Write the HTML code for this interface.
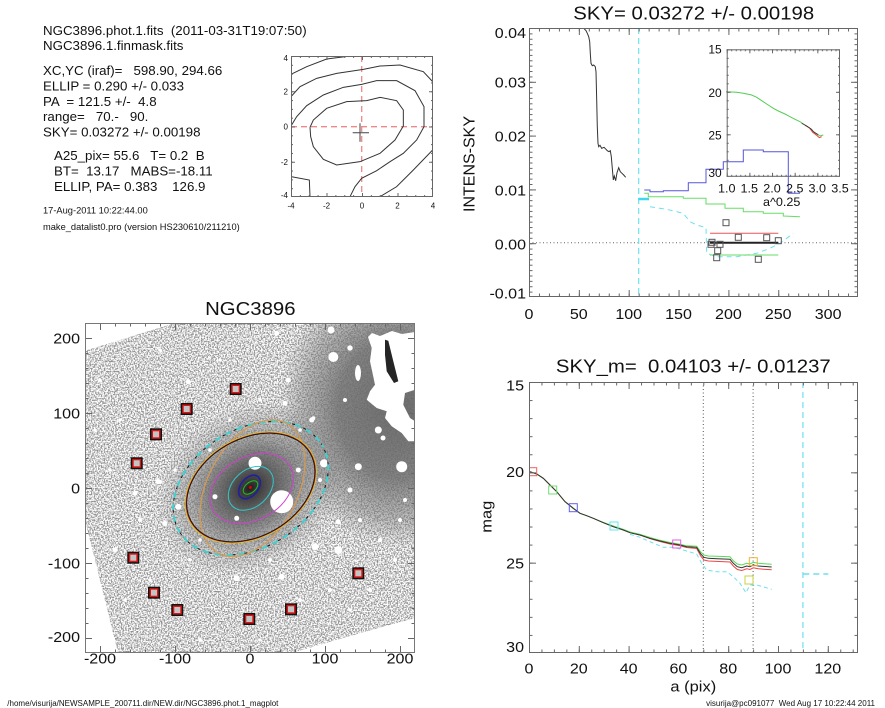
<!DOCTYPE html>
<html>
<head>
<meta charset="utf-8">
<style>
html,body{margin:0;padding:0;background:#fff;}
svg{display:block;}
text{font-family:"Liberation Sans",Arial,Helvetica,sans-serif;fill:#111;white-space:pre;}
.f15{font-size:15px;}
.f12{font-size:12px;}
.f8{font-size:8px;}
.f13{font-size:13.3px;}
.f9{font-size:9.3px;}
.tt{font-size:18.5px;}
</style>
</head>
<body>
<svg width="885" height="708" viewBox="0 0 885 708" xmlns="http://www.w3.org/2000/svg" xmlns:xlink="http://www.w3.org/1999/xlink">
<defs>
  <pattern id="trxM" patternUnits="userSpaceOnUse" x="529" y="0" width="49.85" height="800"><rect width="1" height="800" fill="#666"/></pattern>
  <pattern id="trxm" patternUnits="userSpaceOnUse" x="529" y="0" width="9.97" height="800"><rect width="1" height="800" fill="#666"/></pattern>
  <pattern id="tryM" patternUnits="userSpaceOnUse" x="0" y="28" width="900" height="53.8"><rect width="900" height="1" fill="#666"/></pattern>
  <pattern id="trym" patternUnits="userSpaceOnUse" x="0" y="28" width="900" height="5.38"><rect width="900" height="1" fill="#666"/></pattern>
  <pattern id="brxM" patternUnits="userSpaceOnUse" x="529" y="0" width="49.8" height="800"><rect width="1" height="800" fill="#666"/></pattern>
  <pattern id="brxm" patternUnits="userSpaceOnUse" x="529" y="0" width="12.45" height="800"><rect width="1" height="800" fill="#666"/></pattern>
  <pattern id="bryM" patternUnits="userSpaceOnUse" x="0" y="382" width="900" height="90.33"><rect width="900" height="1" fill="#666"/></pattern>
  <pattern id="brym" patternUnits="userSpaceOnUse" x="0" y="382" width="900" height="18.066"><rect width="900" height="1" fill="#666"/></pattern>
  <pattern id="blxM" patternUnits="userSpaceOnUse" x="100" y="0" width="75" height="800"><rect width="1" height="800" fill="#666"/></pattern>
  <pattern id="blxm" patternUnits="userSpaceOnUse" x="100" y="0" width="15" height="800"><rect width="1" height="800" fill="#666"/></pattern>
  <pattern id="blyM" patternUnits="userSpaceOnUse" x="0" y="338" width="900" height="75"><rect width="900" height="1" fill="#666"/></pattern>
  <pattern id="blym" patternUnits="userSpaceOnUse" x="0" y="338" width="900" height="15"><rect width="900" height="1" fill="#666"/></pattern>
  <pattern id="scxM" patternUnits="userSpaceOnUse" x="291" y="0" width="35.5" height="800"><rect width="1" height="800" fill="#666"/></pattern>
  <pattern id="scxm" patternUnits="userSpaceOnUse" x="291" y="0" width="8.875" height="800"><rect width="1" height="800" fill="#666"/></pattern>
  <pattern id="scyM" patternUnits="userSpaceOnUse" x="0" y="56" width="900" height="35.25"><rect width="900" height="1" fill="#666"/></pattern>
  <pattern id="scym" patternUnits="userSpaceOnUse" x="0" y="56" width="900" height="8.8125"><rect width="900" height="1" fill="#666"/></pattern>
  <pattern id="inxM" patternUnits="userSpaceOnUse" x="726.7" y="0" width="22.66" height="800"><rect width="1" height="800" fill="#666"/></pattern>
  <pattern id="inxm" patternUnits="userSpaceOnUse" x="726.7" y="0" width="4.532" height="800"><rect width="1" height="800" fill="#666"/></pattern>
  <pattern id="inyM" patternUnits="userSpaceOnUse" x="0" y="49.3" width="900" height="42.5"><rect width="900" height="1" fill="#666"/></pattern>
  <pattern id="inym" patternUnits="userSpaceOnUse" x="0" y="49.3" width="900" height="8.5"><rect width="900" height="1" fill="#666"/></pattern>

  <clipPath id="cTR"><rect x="529" y="28" width="329" height="269"/></clipPath>
  <clipPath id="cBR"><rect x="529" y="382" width="329" height="271"/></clipPath>
  <clipPath id="cBL"><rect x="85" y="323" width="330" height="330"/></clipPath>
  <clipPath id="cSC"><rect x="291" y="56" width="142" height="141"/></clipPath>
  <clipPath id="cIMG"><polygon points="85,520 85,350.7 175,323 415,323 415,618 350,636 292,653 118,653"/></clipPath>

  <filter id="nz" filterUnits="userSpaceOnUse" x="85" y="323" width="330" height="330" color-interpolation-filters="sRGB">
    <feTurbulence type="fractalNoise" baseFrequency="0.7" numOctaves="3" seed="11"/>
    <feColorMatrix type="matrix" values="0 0 0 1 0  0 0 0 1 0  0 0 0 1 0  0 0 0 0 1"/>
    <feComponentTransfer>
      <feFuncR type="table" tableValues="0.55 0.55 0.55 0.57 0.7 0.97 1 1 1 1"/>
      <feFuncG type="table" tableValues="0.55 0.55 0.55 0.57 0.7 0.97 1 1 1 1"/>
      <feFuncB type="table" tableValues="0.55 0.55 0.55 0.57 0.7 0.97 1 1 1 1"/>
    </feComponentTransfer>
  </filter>

  <radialGradient id="gdark" cx="0.5" cy="0.5" r="0.5">
    <stop offset="0" stop-color="#666" stop-opacity="0.95"/>
    <stop offset="0.5" stop-color="#6e6e6e" stop-opacity="0.85"/>
    <stop offset="0.8" stop-color="#7a7a7a" stop-opacity="0.45"/>
    <stop offset="1" stop-color="#888" stop-opacity="0"/>
  </radialGradient>
  <radialGradient id="ggal" cx="0.5" cy="0.5" r="0.5">
    <stop offset="0" stop-color="#1a1a1a" stop-opacity="1"/>
    <stop offset="0.06" stop-color="#333" stop-opacity="1"/>
    <stop offset="0.25" stop-color="#555" stop-opacity="0.92"/>
    <stop offset="0.44" stop-color="#6a6a6a" stop-opacity="0.8"/>
    <stop offset="0.7" stop-color="#808080" stop-opacity="0.45"/>
    <stop offset="1" stop-color="#888" stop-opacity="0"/>
  </radialGradient>

  <g id="mk">
    <rect x="-6" y="-6" width="12" height="12" fill="#111"/>
    <rect x="-4.5" y="-4.5" width="9" height="9" fill="#d81818"/>
    <rect x="-3" y="-3" width="6" height="6" fill="#c4c4c4"/>
  </g>
</defs>

<rect x="0" y="0" width="885" height="708" fill="#fff"/>

<!-- TOP-LEFT TEXT -->
<text class="f13" x="43" y="35">NGC3896.phot.1.fits  (2011-03-31T19:07:50)</text>
<text class="f13" x="43" y="50">NGC3896.1.finmask.fits</text>
<text class="f13" x="43" y="75">XC,YC (iraf)=   598.90, 294.66</text>
<text class="f13" x="43" y="90.4">ELLIP = 0.290 +/- 0.033</text>
<text class="f13" x="43" y="105.8">PA  = 121.5 +/-  4.8</text>
<text class="f13" x="43" y="121.2">range=   70.-   90.</text>
<text class="f13" x="43" y="136.6">SKY= 0.03272 +/- 0.00198</text>
<text class="f13" x="54" y="160">A25_pix= 55.6   T= 0.2  B</text>
<text class="f13" x="54" y="175.6">BT=  13.17   MABS=-18.11</text>
<text class="f13" x="54" y="191">ELLIP, PA= 0.383    126.9</text>
<text class="f9" x="43" y="213.5">17-Aug-2011 10:22:44.00</text>
<text class="f9" x="43" y="230">make_datalist0.pro (version HS230610/211210)</text>

<!-- SMALL CONTOUR PLOT -->
<g clip-path="url(#cSC)">
  <line x1="291" y1="126.7" x2="433" y2="126.7" stroke="#f08888" stroke-width="1.3" stroke-dasharray="6 4"/>
  <line x1="361.7" y1="56" x2="361.7" y2="197" stroke="#f08888" stroke-width="1.3" stroke-dasharray="6 4"/>
  <g transform="translate(270,40) scale(0.33333)" fill="none" stroke="#333" stroke-width="3">
    <polyline points="120,262 122,290 130,320 160,358 200,375 270,365 330,340 375,300 400,258 400,210 380,182 330,172 290,182 230,185 170,205 130,240 120,262"/>
    <polyline points="63,258 80,230 110,197 160,165 220,142 275,133 320,122 380,122 435,152 462,200 462,260 440,300 400,340 360,365 320,392 275,415 255,440 240,470"/>
    <polyline points="63,170 90,140 140,115 200,100 280,88 330,78 390,75 460,95 488,125"/>
    <polyline points="63,103 110,80 170,57 250,47"/>
    <polyline points="63,410 118,420 120,470"/>
    <polyline points="330,470 380,440 430,390 488,330"/>
  </g>
  <line x1="352.7" y1="132.7" x2="369" y2="132.7" stroke="#444" stroke-width="1"/>
  <line x1="360" y1="123.3" x2="360" y2="141.7" stroke="#444" stroke-width="1"/>
</g>
<rect x="291" y="193" width="142" height="4" fill="url(#scxM)"/>
<rect x="291" y="195" width="142" height="2" fill="url(#scxm)"/>
<rect x="291" y="56" width="142" height="4" fill="url(#scxM)"/>
<rect x="291" y="56" width="142" height="2" fill="url(#scxm)"/>
<rect x="291" y="56" width="4" height="141" fill="url(#scyM)"/>
<rect x="291" y="56" width="2" height="141" fill="url(#scym)"/>
<rect x="429" y="56" width="4" height="141" fill="url(#scyM)"/>
<rect x="431" y="56" width="2" height="141" fill="url(#scym)"/>
<rect x="291.5" y="56.5" width="141" height="140" fill="none" stroke="#666" stroke-width="1"/>
<g class="f8" text-anchor="end">
  <text x="288" y="61.2">4</text>
  <text x="288" y="94.6">2</text>
  <text x="288" y="129.6">0</text>
  <text x="288" y="165.2">-2</text>
  <text x="288" y="197.9">-4</text>
</g>
<g class="f8" text-anchor="middle">
  <text x="291" y="208.6">-4</text>
  <text x="326.5" y="208.6">-2</text>
  <text x="362" y="208.6">0</text>
  <text x="397.5" y="208.6">2</text>
  <text x="433" y="208.6">4</text>
</g>

<!-- TOP-RIGHT PLOT -->
<text class="tt" text-anchor="middle" transform="translate(693.7,19.4) scale(1.1,1)">SKY= 0.03272 +/- 0.00198</text>
<text style="font-size:16px" text-anchor="middle" transform="translate(474.3,164) rotate(-90)">INTENS-SKY</text>

<g clip-path="url(#cTR)" fill="none">
  <line x1="529" y1="242.8" x2="858" y2="242.8" stroke="#666" stroke-width="1" stroke-dasharray="1 2.5"/>
  <line x1="638.7" y1="28" x2="638.7" y2="297" stroke="#6ee0ee" stroke-width="1.2" stroke-dasharray="6 4"/>
  <polyline stroke="#333" stroke-width="1" points="583.3,27.3 584.7,29.3 586,30.7 587.3,33.3 588.7,36.7 589.7,41.7 590.3,53.3 591,63.3 592.3,65.7 593.7,65 595.3,66.7 596,71.7 596.7,100 597.3,126.7 598,143.3 598.7,146.7 600,145.3 601.7,148.3 604,147.3 606,149.3 607.3,150.7 609,151.7 610.3,150.7 611.3,156.7 612.3,168.3 613.3,180 614.3,176 615.7,180.7 617,172.7 618.7,167.7 620.3,171.7 622,173.3 623.7,175 625.7,177.3"/>
  <polyline stroke="#5555dd" stroke-width="1" points="644.3,190 650,190 650,191.7 663.3,191.7 663.3,190.7 688.3,190.7 688.3,182.7 706,182.7 706,169.3 723.3,169.3 723.3,161.7 743.3,161.7 743.3,150 763.3,150 763.3,151.7 788.3,151.7 788.3,193.3 800,193.3"/>
  <polyline stroke="#66dd66" stroke-width="1" points="644.3,193.3 648.3,193.3 648.3,196.7 683.3,196.7 683.3,198.3 706,198.3 706,204 725,204 725,208.3 743.3,208.3 743.3,211.7 763.3,211.7 763.3,213.3 783.3,213.3 783.3,216 800,216.7"/>
  <line x1="638.3" y1="199" x2="649" y2="199" stroke="#40d8ee" stroke-width="2.5"/>
  <polyline stroke="#6ee0ee" stroke-width="1" stroke-dasharray="5 4" points="650,206.7 666.7,209.3 683.3,213.3 690,221.7 696.7,225 706,227.7 706.7,253.3 716.7,256.7 736.7,256.7 756.7,253.3 770,248.3 780,243.3 793.3,233.3"/>
  <line x1="710" y1="233.3" x2="778.3" y2="233.3" stroke="#ee5555" stroke-width="1"/>
  <line x1="710" y1="242.8" x2="778.3" y2="242.8" stroke="#222" stroke-width="2"/>
  <line x1="710" y1="255" x2="778.3" y2="255" stroke="#66dd66" stroke-width="1"/>
  <g stroke="#555" stroke-width="1">
    <rect x="708" y="241.3" width="6" height="6"/>
    <rect x="709" y="239.3" width="6" height="6"/>
    <rect x="717" y="241.3" width="6" height="6"/>
    <rect x="714.7" y="247.7" width="6" height="6"/>
    <rect x="713.7" y="254.7" width="6" height="6"/>
    <rect x="723" y="219.7" width="6" height="6"/>
    <rect x="735.3" y="234.3" width="6" height="6"/>
    <rect x="755.3" y="256.3" width="6" height="6"/>
    <rect x="763.7" y="234.7" width="6" height="6"/>
    <rect x="775.3" y="237.7" width="6" height="6"/>
  </g>
  <polyline stroke="#55cc55" stroke-width="1" points="726,91.7 736.7,92.3 743.3,93.3 751.7,95 756.7,97.3 761.7,100.7 766.7,104 773.3,108.3 778.3,111 785,114 790,116.7 795,119.3 800,121.7 805,125 808.3,127.3 811.7,129.3 813.3,132.7 816.7,134 820,136 823.3,135"/>
  <polyline stroke="#ee4444" stroke-width="1" points="805,125.3 809.3,127.7 812.7,132.3 816.7,135.3 819.3,137.7 821.7,136.7"/>
  <polyline stroke="#333" stroke-width="0.8" points="801.7,123.3 806.7,126 810.7,128.7 814,132 818.3,134.7"/>
</g>
<rect x="726.7" y="172.8" width="113.3" height="4" fill="url(#inxM)"/>
<rect x="726.7" y="174.8" width="113.3" height="2" fill="url(#inxm)"/>
<rect x="726.7" y="49.3" width="113.3" height="4" fill="url(#inxM)"/>
<rect x="726.7" y="49.3" width="113.3" height="2" fill="url(#inxm)"/>
<rect x="726.7" y="49.3" width="4" height="127.5" fill="url(#inyM)"/>
<rect x="726.7" y="49.3" width="2" height="127.5" fill="url(#inym)"/>
<rect x="836" y="49.3" width="4" height="127.5" fill="url(#inyM)"/>
<rect x="838" y="49.3" width="2" height="127.5" fill="url(#inym)"/>
<rect x="727.2" y="49.8" width="112.3" height="126.5" fill="none" stroke="#666" stroke-width="1"/>
<g class="f12" text-anchor="end">
  <text x="721.7" y="53.6">15</text>
  <text x="721.7" y="97">20</text>
  <text x="721.7" y="139.3">25</text>
  <text x="721.7" y="177">30</text>
</g>
<g class="f12" text-anchor="middle">
  <text transform="translate(726.7,192.6) scale(1.05,1)">1.0</text>
  <text transform="translate(749.3,192.6) scale(1.05,1)">1.5</text>
  <text transform="translate(772,192.6) scale(1.05,1)">2.0</text>
  <text transform="translate(794.7,192.6) scale(1.05,1)">2.5</text>
  <text transform="translate(817.3,192.6) scale(1.05,1)">3.0</text>
  <text transform="translate(840,192.6) scale(1.05,1)">3.5</text>
  <text transform="translate(781.7,206) scale(1.05,1)">a^0.25</text>
</g>
<rect x="529" y="290" width="329" height="7" fill="url(#trxM)"/>
<rect x="529" y="293.5" width="329" height="3.5" fill="url(#trxm)"/>
<rect x="529" y="28" width="329" height="7" fill="url(#trxM)"/>
<rect x="529" y="28" width="329" height="3.5" fill="url(#trxm)"/>
<rect x="529" y="28" width="7" height="269" fill="url(#tryM)"/>
<rect x="529" y="28" width="3.5" height="269" fill="url(#trym)"/>
<rect x="851" y="28" width="7" height="269" fill="url(#tryM)"/>
<rect x="854.5" y="28" width="3.5" height="269" fill="url(#trym)"/>
<rect x="529.5" y="28.5" width="328" height="268" fill="none" stroke="#666" stroke-width="1"/>
<g class="f15" text-anchor="end">
  <text transform="translate(526,37.8) scale(1.07,1)">0.04</text>
  <text transform="translate(526,87.5) scale(1.07,1)">0.03</text>
  <text transform="translate(526,141.5) scale(1.07,1)">0.02</text>
  <text transform="translate(526,195.3) scale(1.07,1)">0.01</text>
  <text transform="translate(526,249.3) scale(1.07,1)">0.00</text>
  <text transform="translate(526,298.7) scale(1.07,1)">-0.01</text>
</g>
<g class="f15" text-anchor="middle">
  <text transform="translate(529,319.2) scale(1.07,1)">0</text>
  <text transform="translate(578.8,319.2) scale(1.07,1)">50</text>
  <text transform="translate(628.7,319.2) scale(1.07,1)">100</text>
  <text transform="translate(678.5,319.2) scale(1.07,1)">150</text>
  <text transform="translate(728.4,319.2) scale(1.07,1)">200</text>
  <text transform="translate(778.2,319.2) scale(1.07,1)">250</text>
  <text transform="translate(828.1,319.2) scale(1.07,1)">300</text>
</g>

<!-- BOTTOM-LEFT IMAGE -->
<text class="tt" text-anchor="middle" transform="translate(250.3,315) scale(1.1,1)">NGC3896</text>
<g clip-path="url(#cIMG)">
  <rect x="85" y="323" width="330" height="330" fill="#bbb" filter="url(#nz)"/>
  <ellipse cx="398" cy="408" rx="120" ry="140" fill="url(#gdark)"/>
  <ellipse cx="250" cy="488" rx="100" ry="80" transform="rotate(-35 250 488)" fill="url(#ggal)"/>
  <g fill="#fff">
    <circle cx="255" cy="463.3" r="6.5"/>
    <circle cx="281.7" cy="501.7" r="11.5"/>
    <circle cx="333.3" cy="357" r="5"/>
    <circle cx="331" cy="330" r="3.5"/>
    <circle cx="324" cy="463.3" r="4"/>
    <circle cx="358.3" cy="466.7" r="3.5"/>
    <circle cx="401.7" cy="466.7" r="5.5"/>
    <circle cx="338.3" cy="550" r="4"/>
    <circle cx="315" cy="546.7" r="3.5"/>
    <circle cx="178.3" cy="506.7" r="3"/>
    <circle cx="158.3" cy="481.7" r="2.5"/>
    <circle cx="135" cy="493.3" r="2.5"/>
    <circle cx="285" cy="403.3" r="2.5"/>
    <circle cx="311.7" cy="420" r="2.5"/>
    <circle cx="165" cy="523.3" r="2.5"/>
    <circle cx="236.7" cy="578.3" r="3"/>
    <circle cx="281.7" cy="576.7" r="3"/>
    <circle cx="215" cy="496.7" r="2.5"/>
    <circle cx="236.7" cy="518.3" r="2.5"/>
    <circle cx="188.3" cy="381.7" r="2.5"/>
    <circle cx="115" cy="550" r="2.5"/>
    <circle cx="276.7" cy="333.3" r="2.5"/>
    <circle cx="288.3" cy="380" r="2.5"/>
    <circle cx="378.3" cy="430" r="3.5"/>
    <circle cx="383" cy="438" r="2.5"/>
    <circle cx="298.3" cy="470" r="2.5"/>
    <circle cx="350" cy="348" r="2.7"/>
    <circle cx="313.3" cy="418.3" r="2"/>
    <circle cx="350" cy="490" r="2.5"/>
    <circle cx="338.3" cy="521.7" r="2.5"/>
    <circle cx="160" cy="481.7" r="2"/>
    <circle cx="100" cy="380" r="1.8"/>
    <circle cx="120" cy="420" r="1.8"/>
    <circle cx="140" cy="520" r="2"/>
    <circle cx="200" cy="540" r="1.8"/>
    <circle cx="210" cy="450" r="1.8"/>
    <circle cx="230" cy="420" r="1.8"/>
    <circle cx="270" cy="560" r="2"/>
    <circle cx="300" cy="600" r="2"/>
    <circle cx="330" cy="590" r="2"/>
    <circle cx="350" cy="610" r="1.8"/>
    <circle cx="380" cy="540" r="2.2"/>
    <circle cx="400" cy="520" r="2"/>
    <circle cx="395" cy="560" r="2"/>
    <circle cx="360" cy="520" r="2"/>
    <circle cx="300" cy="430" r="1.8"/>
    <circle cx="260" cy="400" r="1.8"/>
    <circle cx="220" cy="360" r="1.8"/>
    <circle cx="160" cy="350" r="1.8"/>
    <circle cx="110" cy="470" r="1.8"/>
    <circle cx="125" cy="600" r="1.8"/>
    <circle cx="200" cy="640" r="1.8"/>
    <circle cx="260" cy="640" r="1.8"/>
    <circle cx="320" cy="480" r="2"/>
    <circle cx="345" cy="400" r="2"/>
    <circle cx="405" cy="500" r="2"/>
    <circle cx="370" cy="590" r="2"/>
    <circle cx="150" cy="580" r="1.8"/>
    <circle cx="190" cy="560" r="1.8"/>
    <circle cx="95" cy="430" r="1.8"/>
    <circle cx="175" cy="470" r="1.8"/>
    <ellipse cx="358" cy="373" rx="3" ry="8"/>
    <polygon points="368,337 372,333 380,336 392,331 402,334 415,332 415,389.7 405,393 403.3,404.7 410,418 415,421.3 415,441.3 408.3,441.3 401.7,433 391.7,426.3 385,418 386.7,411.3 376.7,408 366.7,399.7 370,391.3 375,384.7 370,361.3 371.7,348"/>
  </g>
  <polygon fill="#252525" points="385,339.7 388.3,340.7 393.3,361.3 398.3,381.3 394,383 386.7,371.3 385,354.7"/>
</g>
<g clip-path="url(#cBL)" fill="none">
  <ellipse cx="250.7" cy="488.3" rx="83.4" ry="59.2" transform="rotate(-31.6 250.7 488.3)" stroke="#111" stroke-width="1" stroke-dasharray="3 3"/>
  <ellipse cx="250.7" cy="488.3" rx="83.4" ry="59.2" transform="rotate(-31.6 250.7 488.3)" stroke="#40d0d0" stroke-width="2" stroke-dasharray="6 6" stroke-dashoffset="3"/>
  <ellipse cx="252.5" cy="488.3" rx="73.3" ry="45.2" transform="rotate(-62.5 252.5 488.3)" stroke="#d89a50" stroke-width="1.2"/>
  <ellipse cx="250.8" cy="487.5" rx="69.8" ry="49.6" transform="rotate(-30 250.8 487.5)" stroke="#d8d020" stroke-width="1.2"/>
  <ellipse cx="250.8" cy="487.5" rx="69.2" ry="49.1" transform="rotate(-30 250.8 487.5)" stroke="#d02020" stroke-width="0.8"/>
  <ellipse cx="250.8" cy="487.5" rx="68.5" ry="48.6" transform="rotate(-30 250.8 487.5)" stroke="#111" stroke-width="0.9"/>
  <ellipse cx="251.7" cy="488.3" rx="44.4" ry="31.5" transform="rotate(-29 251.7 488.3)" stroke="#d040d0" stroke-width="1"/>
  <ellipse cx="250.8" cy="488.3" rx="25.6" ry="18.2" transform="rotate(-43 250.8 488.3)" stroke="#30c8c8" stroke-width="1"/>
  <ellipse cx="249.5" cy="487" rx="13.4" ry="8.7" transform="rotate(-51 249.5 487)" stroke="#2020a0" stroke-width="1.6"/>
  <ellipse cx="250.5" cy="487.5" rx="8.5" ry="5.1" transform="rotate(-40 250.5 487.5)" stroke="#20c020" stroke-width="1"/>
  <circle cx="250.3" cy="487.5" r="1.5" fill="#e00000"/>
</g>
<use xlink:href="#mk" x="235.7" y="389"/>
<use xlink:href="#mk" x="186.7" y="409"/>
<use xlink:href="#mk" x="156" y="434.3"/>
<use xlink:href="#mk" x="136.7" y="463.3"/>
<use xlink:href="#mk" x="133.3" y="557.7"/>
<use xlink:href="#mk" x="154" y="592.7"/>
<use xlink:href="#mk" x="177.3" y="610"/>
<use xlink:href="#mk" x="249.3" y="619"/>
<use xlink:href="#mk" x="291" y="609.3"/>
<use xlink:href="#mk" x="358.3" y="573.3"/>

<rect x="85" y="646" width="330" height="7" fill="url(#blxM)"/>
<rect x="85" y="649.5" width="330" height="3.5" fill="url(#blxm)"/>
<rect x="85" y="323" width="330" height="7" fill="url(#blxM)"/>
<rect x="85" y="323" width="330" height="3.5" fill="url(#blxm)"/>
<rect x="85" y="323" width="7" height="330" fill="url(#blyM)"/>
<rect x="85" y="323" width="3.5" height="330" fill="url(#blym)"/>
<rect x="408" y="323" width="7" height="330" fill="url(#blyM)"/>
<rect x="411.5" y="323" width="3.5" height="330" fill="url(#blym)"/>
<rect x="85.5" y="323.5" width="329" height="329" fill="none" stroke="#777" stroke-width="1"/>
<g class="f15" text-anchor="end">
  <text transform="translate(80,343.7) scale(1.07,1)">200</text>
  <text transform="translate(80,418.7) scale(1.07,1)">100</text>
  <text transform="translate(80,493.7) scale(1.07,1)">0</text>
  <text transform="translate(80,568.7) scale(1.07,1)">-100</text>
  <text transform="translate(80,642.1) scale(1.07,1)">-200</text>
</g>
<g class="f15" text-anchor="middle">
  <text transform="translate(100,663.7) scale(1.07,1)">-200</text>
  <text transform="translate(175,663.7) scale(1.07,1)">-100</text>
  <text transform="translate(250,663.7) scale(1.07,1)">0</text>
  <text transform="translate(325,663.7) scale(1.07,1)">100</text>
  <text transform="translate(400,663.7) scale(1.07,1)">200</text>
</g>

<!-- BOTTOM-RIGHT PLOT -->
<text class="tt" text-anchor="middle" transform="translate(693.3,372.7) scale(1.1,1)">SKY_m=  0.04103 +/- 0.01237</text>
<text class="f15" text-anchor="middle" transform="translate(491.7,516.7) rotate(-90) scale(1.1,1)">mag</text>
<text class="f15" text-anchor="middle" transform="translate(693.3,691.5) scale(1.1,1)">a (pix)</text>

<g clip-path="url(#cBR)" fill="none">
  <line x1="703.3" y1="382" x2="703.3" y2="653" stroke="#555" stroke-width="1" stroke-dasharray="1 2.5"/>
  <line x1="753.1" y1="382" x2="753.1" y2="653" stroke="#555" stroke-width="1" stroke-dasharray="1 2.5"/>
  <line x1="802.9" y1="382" x2="802.9" y2="653" stroke="#6ee0ee" stroke-width="1.2" stroke-dasharray="6 4"/>
  <line x1="803.3" y1="574" x2="828.3" y2="574" stroke="#6ee0ee" stroke-width="1.6" stroke-dasharray="6 4"/>
  <polyline stroke="#6ee0ee" stroke-width="1" stroke-dasharray="4 3" points="630,534.3 640,537.3 650,541.7 663.3,547.3 673.3,547.3 683.3,550 696.7,554 701.7,563.3 706.7,570 716.7,571.7 726.7,571.7 733.3,576.7 740,583.3 746,592.7 750,585 756.7,585 771.7,589.3"/>
  <polyline stroke="#ee4444" stroke-width="1" points="530,471.7 536.7,474 543.3,478.3 550,485 556.7,491.7 565,501.7 573.3,508.3 580,513.3 586.7,515.7 593.3,518.3 603.3,522.7 613.3,526.7 623.3,530 630,532.7 640,535 650,538.7 660,541.5 670,544 680,545.8 686.7,547.5 696.7,548.5 698.3,551.5 700.7,556 704,560 708.3,561 716.7,561.4 730,562 733.3,566 737.3,569.5 741.7,570.5 746.7,568.8 750,569.5 753.3,567.8 758.3,568.8 771.7,569.8"/>
  <polyline stroke="#55dd55" stroke-width="1" points="530,471.7 536.7,474 543.3,478.3 550,485 556.7,491.7 565,501.7 573.3,508.3 580,513.3 586.7,515.7 593.3,518.3 603.3,522.3 613.3,526 623.3,529.3 630,532 640,534.3 650,537.5 660,540.3 670,542.5 680,544.2 686.7,545.8 696.7,546.2 698.3,548.5 700.7,552 704,555 708.3,556 716.7,556.3 730,556.8 733.3,560.8 737.3,564 741.7,565 746.7,563.3 750,564 753.3,562.3 758.3,563.3 771.7,564.3"/>
  <polyline stroke="#333" stroke-width="1" points="530,471.7 536.7,474 543.3,478.3 550,485 556.7,491.7 565,501.7 573.3,508.3 580,513.3 586.7,515.7 593.3,518.3 603.3,522.7 613.3,526.7 623.3,530 630,532.7 640,535 650,538.3 660,541 670,543.3 680,545 686.7,546.7 696.7,547.3 698.3,550 700.7,554 704,557.3 708.3,558.3 716.7,558.7 730,559.3 733.3,563.3 737.3,566.7 741.7,567.7 746.7,566 750,566.7 753.3,565 758.3,566 771.7,567"/>
  <rect x="528.7" y="467.7" width="8" height="8" stroke="#f06060" stroke-width="1"/>
  <rect x="548.7" y="486" width="8" height="8" stroke="#70e070" stroke-width="1"/>
  <rect x="569.3" y="503.7" width="8" height="8" stroke="#6060f0" stroke-width="1"/>
  <rect x="610" y="522" width="8" height="8" stroke="#60e8f0" stroke-width="1"/>
  <rect x="672.7" y="540" width="8" height="8" stroke="#e060e0" stroke-width="1"/>
  <rect x="749.3" y="557.7" width="8" height="8" stroke="#f0b040" stroke-width="1"/>
  <rect x="745" y="576" width="8" height="8" stroke="#c8d040" stroke-width="1"/>
</g>
<rect x="529" y="646" width="329" height="7" fill="url(#brxM)"/>
<rect x="529" y="649.5" width="329" height="3.5" fill="url(#brxm)"/>
<rect x="529" y="382" width="329" height="7" fill="url(#brxM)"/>
<rect x="529" y="382" width="329" height="3.5" fill="url(#brxm)"/>
<rect x="529" y="382" width="7" height="271" fill="url(#bryM)"/>
<rect x="529" y="382" width="3.5" height="271" fill="url(#brym)"/>
<rect x="851" y="382" width="7" height="271" fill="url(#bryM)"/>
<rect x="854.5" y="382" width="3.5" height="271" fill="url(#brym)"/>
<rect x="529.5" y="382.5" width="328" height="270" fill="none" stroke="#666" stroke-width="1"/>
<g class="f15" text-anchor="end">
  <text transform="translate(524,390.4) scale(1.07,1)">15</text>
  <text transform="translate(524,477.1) scale(1.07,1)">20</text>
  <text transform="translate(524,568.4) scale(1.07,1)">25</text>
  <text transform="translate(524,652.1) scale(1.07,1)">30</text>
</g>
<g class="f15" text-anchor="middle">
  <text transform="translate(529,673.4) scale(1.07,1)">0</text>
  <text transform="translate(578.8,673.4) scale(1.07,1)">20</text>
  <text transform="translate(628.6,673.4) scale(1.07,1)">40</text>
  <text transform="translate(678.4,673.4) scale(1.07,1)">60</text>
  <text transform="translate(728.2,673.4) scale(1.07,1)">80</text>
  <text transform="translate(778,673.4) scale(1.07,1)">100</text>
  <text transform="translate(827.8,673.4) scale(1.07,1)">120</text>
</g>

<!-- FOOTERS -->
<text class="f8" x="7.3" y="706">/home/visurija/NEWSAMPLE_200711.dir/NEW.dir/NGC3896.phot.1_magplot</text>
<text class="f8" x="875" y="706" text-anchor="end">visurija@pc091077  Wed Aug 17 10:22:44 2011</text>
</svg>
</body>
</html>
